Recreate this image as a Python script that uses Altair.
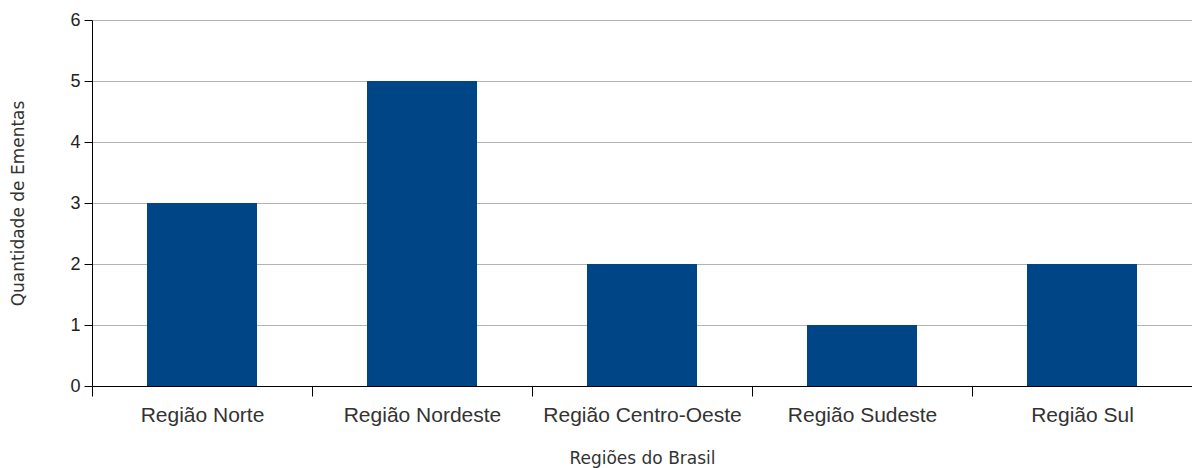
import altair as alt
import pandas as pd

regioes = ["Região Norte", "Região Nordeste", "Região Centro-Oeste", "Região Sudeste", "Região Sul"]
quantidade = [3, 5, 2, 1, 2]

df = pd.DataFrame({"regiao": regioes, "qtd": quantidade})

chart = alt.Chart(df).mark_bar(color="#004586", width=alt.RelativeBandSize(0.5)).encode(
    x=alt.X("regiao:N", sort=regioes,
            scale=alt.Scale(paddingInner=0, paddingOuter=0),
            axis=alt.Axis(title="Regiões do Brasil", labelAngle=0, tickBand="extent",
                          tickSize=10, labelPadding=8, labelFontSize=21, labelLimit=0,
                          labelFont="Liberation Sans", labelColor="#333333",
                          titleFont="DejaVu Sans", titleFontSize=17, titleFontWeight="normal",
                          titleColor="#333333", titleY=72, titleBaseline="middle",
                          domainColor="#000000", tickColor="#000000", grid=False)),
    y=alt.Y("qtd:Q", scale=alt.Scale(domain=[0, 6]),
            axis=alt.Axis(title="Quantidade de Ementas", values=[0, 1, 2, 3, 4, 5, 6],
                          tickSize=8, labelPadding=4, labelFontSize=18,
                          labelFont="Liberation Sans", labelColor="#222222",
                          titleFont="DejaVu Sans", titleFontSize=17, titleFontWeight="normal",
                          titleColor="#333333", titleX=-74, titleBaseline="middle",
                          domainColor="#000000", tickColor="#000000",
                          grid=True, gridColor="#b3b3b3", gridWidth=1)),
).properties(
    width=1100, height=366,
    autosize=alt.AutoSizeParams(type="none"),
    padding={"left": 92, "top": 20, "right": 0, "bottom": 82},
).configure_view(stroke=None).configure(background="white")

chart.save("out.html", embed_options={"renderer": "svg", "actions": False})
